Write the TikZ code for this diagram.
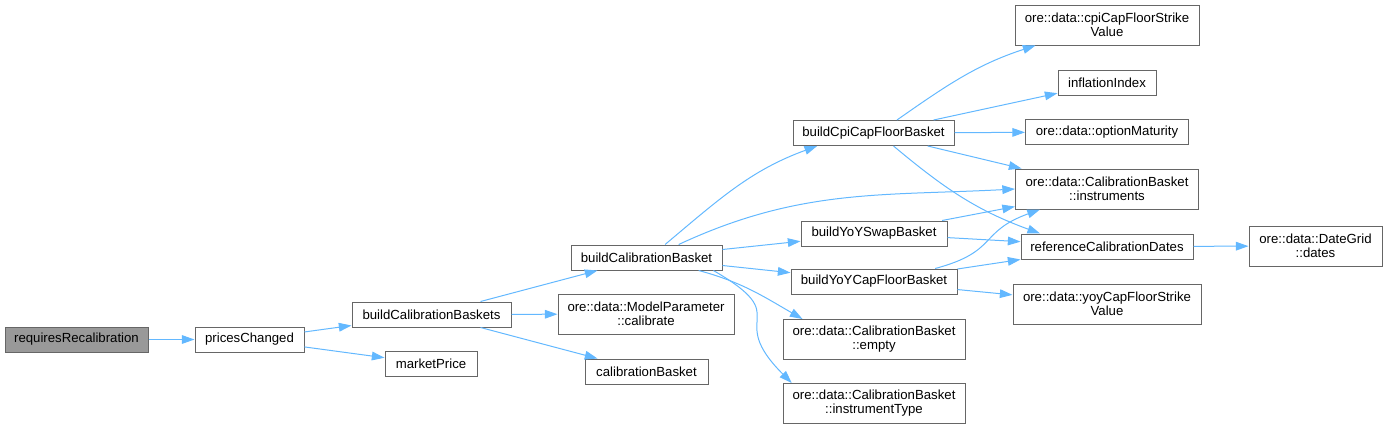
\documentclass[tikz,border=0pt]{standalone}
\usepackage{fontspec}
\setmainfont{Liberation Sans}
\usetikzlibrary{arrows.meta}
\definecolor{edgeblue}{RGB}{99,184,255}
\definecolor{boxgray}{RGB}{102,102,102}
\definecolor{rootgray}{RGB}{153,153,153}

\begin{document}
\begin{tikzpicture}[x=0.75pt, y=0.75pt, font=\fontsize{9.9}{10.6}\selectfont,
  fn/.style={draw=boxgray, fill=white, line width=0.75pt, inner xsep=4pt, inner ysep=1pt,
             minimum height=18.75pt, align=center},
  fn2/.style={fn, minimum height=30pt},
  bw/.style={minimum width=#1*0.75pt},
  edge/.style={edgeblue, line width=0.75pt, -{Triangle[length=9.5pt,width=6.5pt]}}]
  \useasboundingbox (0,0) rectangle (1387,-429);

  % callers on the left
  \node[fn, bw=143, fill=rootgray] (root) at (76.5,-339.5) {requiresRecalibration};
  \node[fn, bw=109] (priceschg) at (249.5,-339.5) {pricesChanged};
  \node[fn, bw=159] (bcbaskets) at (431.5,-314.5) {buildCalibrationBaskets};
  \node[fn, bw=92] (mktprice) at (431,-364) {marketPrice};

  % second column
  \node[fn, bw=151] (bcbasket) at (646.5,-257.5) {buildCalibrationBasket};
  \node[fn2, bw=176] (calibrate) at (646,-314) {ore::data::ModelParameter\\::calibrate};
  \node[fn, bw=123] (calbasket) at (646.5,-371.5) {calibrationBasket};

  % third column
  \node[fn, bw=161] (bcpi) at (873.5,-133) {buildCpiCapFloorBasket};
  \node[fn, bw=146] (byoyswap) at (874,-233.5) {buildYoYSwapBasket};
  \node[fn, bw=166] (byoycf) at (874,-281.5) {buildYoYCapFloorBasket};
  \node[fn2, bw=182] (cbempty) at (874,-339.5) {ore::data::CalibrationBasket\\::empty};
  \node[fn2, bw=182] (cbinsttype) at (874,-403.5) {ore::data::CalibrationBasket\\::instrumentType};

  % fourth column
  \node[fn2, bw=184] (cpistrike) at (1107,-25) {ore::data::cpiCapFloorStrike\\Value};
  \node[fn, bw=98] (inflidx) at (1107,-82.5) {inflationIndex};
  \node[fn, bw=163] (optmat) at (1107,-132) {ore::data::optionMaturity};
  \node[fn2, bw=183] (cbinstr) at (1107,-189) {ore::data::CalibrationBasket\\::instruments};
  \node[fn, bw=172] (refdates) at (1107,-246.5) {referenceCalibrationDates};
  \node[fn2, bw=188] (yoystrike) at (1107,-304) {ore::data::yoyCapFloorStrike\\Value};

  \node[fn2, bw=133] (dgdates) at (1315.5,-246) {ore::data::DateGrid\\::dates};

  % straight calls
  \foreach \a/\b in {root/priceschg, priceschg/bcbaskets, priceschg/mktprice,
                     bcbaskets/bcbasket, bcbaskets/calibrate, bcbaskets/calbasket,
                     bcbasket/byoyswap, bcbasket/byoycf,
                     bcpi/inflidx, bcpi/optmat, bcpi/cbinstr,
                     byoyswap/cbinstr, byoyswap/refdates,
                     byoycf/refdates, byoycf/yoystrike, refdates/dgdates} {
    \draw[edge] (\a) -- (\b);
  }

  % bent calls
  \draw[edge] (bcbasket.35) to[out=40, in=200] (bcpi.193);
  \draw[edge] (bcbasket.22) to[out=25, in=183] (cbinstr.west);
  \draw[edge] (bcbasket.-14) to[out=-15, in=150] (cbempty.164);
  \draw[edge] (bcbasket.-11) to[out=-30, in=135, looseness=1.8] (cbinsttype.166);
  \draw[edge] (bcpi.29) to[out=35, in=198] (cpistrike.196);
  \draw[edge] (bcpi.-33) to[out=-40, in=160] (refdates.169);
  \draw[edge] (byoycf.12) to[out=15, in=200, looseness=1.4] (cbinstr.197);
\end{tikzpicture}
\end{document}
